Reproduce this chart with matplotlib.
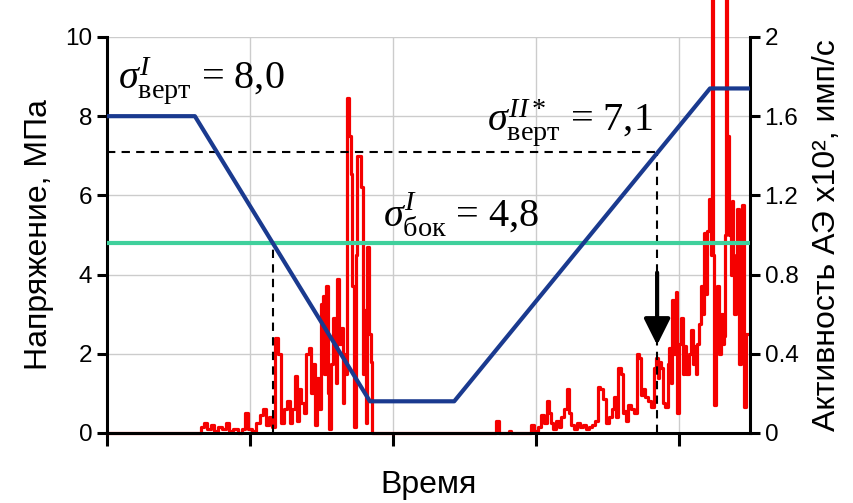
import matplotlib
matplotlib.use("Agg")
import matplotlib.pyplot as plt

# stress path (left axis, MPa)
stress_t = [0.0, 0.615, 1.84, 2.43, 4.22, 4.5]
stress_v = [8.0, 8.0, 0.8, 0.8, 8.7, 8.7]
side_stress = 4.8
crit_stress = 7.1
t_side = 1.16
t_crit = 3.85

# AE activity (right axis, x10^2 pulses/s)
ae_t = [0.0, 0.615, 0.650, 0.671, 0.692, 0.713, 0.741, 0.762, 0.790, 0.818, 0.846,
        0.867, 0.902, 0.930, 0.958, 0.979, 1.000, 1.028, 1.056, 1.084, 1.105,
        1.126, 1.147, 1.168, 1.189, 1.210, 1.231, 1.252, 1.273, 1.287, 1.308,
        1.322, 1.336, 1.350, 1.371, 1.385, 1.406, 1.420, 1.434, 1.448, 1.462,
        1.476, 1.490, 1.503, 1.517, 1.524, 1.538, 1.552, 1.559, 1.573, 1.594,
        1.608, 1.615, 1.629, 1.643, 1.657, 1.664, 1.678, 1.685, 1.699, 1.713,
        1.720, 1.734, 1.748, 1.755, 1.776, 1.783, 1.797, 1.804, 1.818, 1.825,
        1.839, 1.853, 1.860,
        2.713, 2.734, 2.755, 2.804, 2.818, 2.832, 2.958, 2.979, 3.000, 3.028,
        3.049, 3.070, 3.084, 3.098, 3.112, 3.133, 3.154, 3.168, 3.189, 3.210,
        3.224, 3.238, 3.259, 3.280, 3.301, 3.322, 3.343, 3.364, 3.385, 3.406,
        3.427, 3.441, 3.462, 3.483, 3.503, 3.524, 3.538, 3.552, 3.566, 3.587,
        3.601, 3.615, 3.622, 3.636, 3.657, 3.678, 3.699, 3.713, 3.727, 3.741,
        3.755, 3.776, 3.797, 3.818, 3.832, 3.846, 3.860, 3.867, 3.881, 3.895,
        3.916, 3.930, 3.937, 3.951, 3.958, 3.972, 3.986, 3.993, 4.007, 4.021,
        4.035, 4.042, 4.063, 4.077, 4.091, 4.105, 4.112, 4.126, 4.133, 4.147,
        4.161, 4.175, 4.182, 4.196, 4.203, 4.217, 4.231, 4.238, 4.245, 4.252,
        4.266, 4.273, 4.287, 4.301, 4.315, 4.322, 4.329, 4.336, 4.343, 4.357,
        4.371, 4.378, 4.385, 4.392, 4.406, 4.413, 4.427, 4.441, 4.448, 4.462,
        4.476, 4.490]
ae_v = [0.0, 0.0, 0.0, 0.03, 0.05, 0.02, 0.04, 0.01, 0.03, 0.02, 0.05,
        0.01, 0.02, 0.0, 0.02, 0.10, 0.02, 0.01, 0.05, 0.09, 0.12,
        0.04, 0.08, 0.03, 0.48, 0.40, 0.05, 0.12, 0.16, 0.05, 0.12,
        0.29, 0.06, 0.22, 0.15, 0.10, 0.40, 0.43, 0.20, 0.35, 0.04,
        0.28, 0.12, 0.65, 0.69, 0.30, 0.74, 0.20, 0.02, 0.35, 0.58,
        0.25, 0.78, 0.45, 0.53, 0.15, 0.40, 0.30, 1.69, 1.50, 1.31,
        0.74, 0.03, 0.90, 1.40, 1.40, 1.24, 0.30, 0.62, 0.05, 0.94,
        0.50, 0.36, 0.0,
        0.0, 0.06, 0.0, 0.0, 0.01, 0.0, 0.0, 0.04, 0.01, 0.03,
        0.09, 0.05, 0.16, 0.10, 0.05, 0.02, 0.06, 0.03, 0.08, 0.12,
        0.22, 0.10, 0.04, 0.02, 0.05, 0.03, 0.04, 0.02, 0.03, 0.04,
        0.06, 0.23, 0.22, 0.17, 0.05, 0.08, 0.12, 0.18, 0.08, 0.33,
        0.30, 0.10, 0.11, 0.06, 0.14, 0.12, 0.10, 0.40, 0.38, 0.19,
        0.22, 0.18, 0.16, 0.13, 0.33, 0.38, 0.28, 0.36, 0.33, 0.15,
        0.13, 0.35, 0.43, 0.25, 0.67, 0.40, 0.71, 0.10, 0.45, 0.58,
        0.30, 0.44, 0.30, 0.40, 0.52, 0.35, 0.44, 0.30, 0.45, 0.55,
        0.74, 0.60, 1.01, 0.70, 1.02, 1.18, 0.90, 2.19, 0.90, 0.14,
        0.50, 0.74, 0.40, 0.60, 0.45, 0.49, 1.00, 2.19, 1.50, 1.00,
        0.80, 1.17, 0.80, 0.60, 0.90, 1.13, 0.35, 0.80, 1.15, 0.13,
        0.50, 0.50]

plt.rcParams['font.family'] = ['Liberation Sans', 'DejaVu Sans']
plt.rcParams['mathtext.fontset'] = 'custom'
plt.rcParams['mathtext.rm'] = 'Liberation Serif'
plt.rcParams['mathtext.it'] = 'Liberation Serif:italic'
plt.rcParams['mathtext.bf'] = 'Liberation Serif:bold'

fig = plt.figure(figsize=(8.54, 5.03), dpi=100)
ax2 = fig.add_axes([0.1253, 0.1392, 0.7529, 0.7873])
ax = ax2.twinx()
ax.set_zorder(ax2.get_zorder() + 1)
ax.patch.set_visible(False)

# grid and AE activity on the lower axes
ax2.set_xlim(0, 4.5)
ax2.set_ylim(0, 2)
ax2.set_xticks([0, 1, 2, 3, 4])
ax2.set_yticks([0, 0.4, 0.8, 1.2, 1.6, 2])
ax2.set_yticklabels(['0', '0.4', '0.8', '1.2', '1.6', '2'])
ax2.grid(True, color='#cccccc', lw=1)
ax2.plot(ae_t, ae_v, color='#f50000', lw=2.3, drawstyle='steps-mid', clip_on=False)
ax2.yaxis.tick_right()
ax2.yaxis.set_label_position('right')
ax2.set_ylabel('Активность АЭ х10², имп/с', fontsize=23, labelpad=10)
ax2.set_xticklabels([])
ax2.set_xlabel('Время', fontsize=23, labelpad=14)

# stress lines on the upper axes
ax.yaxis.tick_left()
ax.yaxis.set_label_position('left')
ax.set_ylim(0, 10)
ax.set_yticks([0, 2, 4, 6, 8, 10])
ax.set_ylabel('Напряжение, МПа', fontsize=23, labelpad=8)
ax.plot(stress_t, stress_v, color='#1a3a8f', lw=3, solid_capstyle='butt', zorder=4)
ax.axhline(side_stress, color='#3fd09c', lw=3, zorder=3)
ax.plot([0, t_crit], [crit_stress, crit_stress], color='black', lw=1.5, ls=(0, (4, 3)), zorder=2)
ax.plot([t_crit, t_crit], [0, crit_stress], color='black', lw=1.5, ls=(0, (4, 3)), zorder=2)
ax.plot([t_side, t_side], [0, side_stress], color='black', lw=1.5, ls=(0, (4, 3)), zorder=2)
ax.annotate('', xy=(t_crit, 2.22), xytext=(t_crit, 4.05),
            arrowprops=dict(arrowstyle='-|>', lw=3, color='black', mutation_scale=40,
                            shrinkA=0, shrinkB=0), zorder=5)

serif = ['Liberation Serif', 'DejaVu Serif']
ax.text(0.077, 8.71, r'$\sigma^{I}_{\mathrm{верт}}$ = 8,0', fontsize=29, family=serif)
ax.text(1.93, 5.18, r'$\sigma^{I}_{\mathrm{бок}}$ = 4,8', fontsize=29, family=serif)
ax.text(2.66, 7.65, r'$\sigma^{II*}_{\mathrm{верт}}$ = 7,1', fontsize=29, family=serif)

for a in (ax, ax2):
    for s in a.spines.values():
        s.set_visible(False)
ax.spines['left'].set_visible(True)
ax.spines['bottom'].set_visible(True)
ax.spines['left'].set_linewidth(2.2)
ax.spines['bottom'].set_linewidth(2.2)
ax2.spines['right'].set_visible(True)
ax2.spines['right'].set_linewidth(2.2)

ax.tick_params(axis='y', direction='out', length=7, width=2.2, labelsize=17.5)
ax2.tick_params(axis='y', direction='out', length=7, width=2.2, labelsize=17.5)
ax2.tick_params(axis='x', direction='out', length=9, width=2.2)

fig.savefig('out.png', dpi=100)
